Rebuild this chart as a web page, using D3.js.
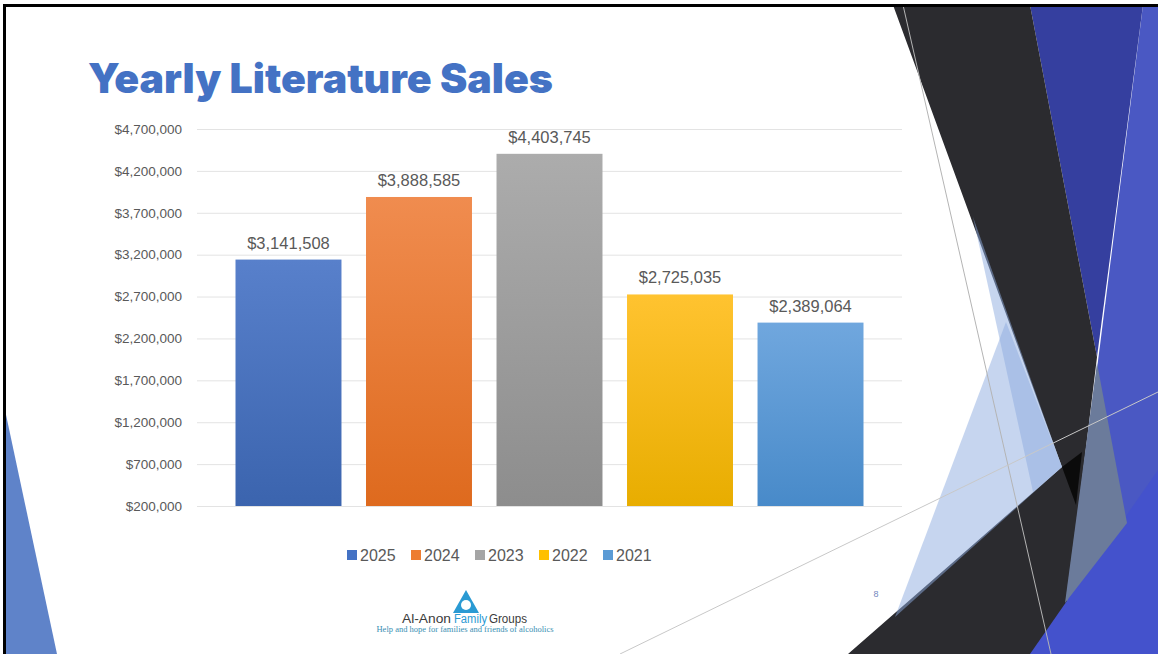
<!DOCTYPE html>
<html>
<head>
<meta charset="utf-8">
<script src="https://cdn.jsdelivr.net/npm/d3@7"></script>
<style>
body { margin: 0; background: #fff; }
svg { display: block; }
.tick text { font-family: "Liberation Sans", Arial, sans-serif; font-size: 13.5px; fill: #595959; }
.grid line { stroke: #e3e3e3; }
.grid path { display: none; }
</style>
</head>
<body>
<script>
// chart data
var years = ["2025", "2024", "2023", "2022", "2021"];
var sales = [3141508, 3888585, 4403745, 2725035, 2389064];
var yTicks = [200000, 700000, 1200000, 1700000, 2200000, 2700000, 3200000, 3700000, 4200000, 4700000];
var topColors = ["#5880cb", "#f08c4f", "#acacac", "#ffc330", "#70a7de"];
var bottomColors = ["#3b64ae", "#de6a1e", "#8d8d8d", "#e8ad00", "#488ac9"];
var legendColors = ["#4472c4", "#ed7d31", "#a5a5a5", "#ffc000", "#5b9bd5"];

var W = 1158, H = 654;
var svg = d3.select("body").append("svg").attr("width", W).attr("height", H);

// ---- slide background decorations ----
var deco = svg.append("g");
var poly = function(pts, fill, op) {
  deco.append("polygon").attr("points", pts.map(function(p) { return p.join(","); }).join(" "))
    .attr("fill", fill).attr("opacity", op == null ? 1 : op);
};
// left blue sliver
poly([[5, 410], [5, 654], [57, 654]], "#5f83c9");
// right side facets
poly([[1143, 5], [1158, 5], [1158, 654], [1061, 654]], "#4a58c3");
poly([[1030, 5], [1143, 5], [1097, 357]], "#353f9f");
poly([[893, 5], [1030, 5], [1097, 357], [1061, 654], [848, 654], [1062, 467]], "#2b2b2f");
poly([[1030, 654], [1158, 470], [1158, 654]], "#4452cc");
// translucent light blue facets
poly([[973, 217], [1062, 467], [1033, 492]], "#8eabe0", 0.5);
poly([[1006, 322], [1062, 467], [895, 617]], "#8eabe0", 0.5);
poly([[1097, 363], [1127, 523], [1065, 603]], "#6b7b9b");
poly([[1062, 467], [1082, 452], [1076, 505]], "#0b0b0b");
deco.append("line").attr("x1", 903).attr("y1", 5).attr("x2", 1051).attr("y2", 654)
  .attr("stroke", "#b4b4b4").attr("stroke-width", 1);
deco.append("line").attr("x1", 620).attr("y1", 654).attr("x2", 1158).attr("y2", 392)
  .attr("stroke", "#c8c8c8").attr("stroke-width", 1);
// frame
svg.append("path").attr("d", "M4.5,654 V5.5 H1158").attr("fill", "none")
  .attr("stroke", "#000").attr("stroke-width", 3);

// ---- title ----
svg.append("text").attr("x", 88).attr("y", 93)
  .attr("textLength", 465).attr("lengthAdjust", "spacingAndGlyphs")
  .style("font-family", "Inter, 'Open Sans', sans-serif")
  .style("font-weight", 900).style("font-size", "41px")
  .style("fill", "#4472c4").text("Yearly Literature Sales");

// ---- chart ----
var x = d3.scaleBand().domain(years).range([197, 902]).paddingInner(0.188).paddingOuter(0.295);
var y = d3.scaleLinear().domain([200000, 4700000]).range([506, 129]);

svg.append("g").attr("class", "grid")
  .attr("transform", "translate(197,0)")
  .call(d3.axisLeft(y).tickValues(yTicks).tickSize(-705).tickFormat(""));

svg.append("g").attr("transform", "translate(197,0)")
  .call(d3.axisLeft(y).tickValues(yTicks).tickSize(0).tickPadding(15)
    .tickFormat(function(d) { return "$" + d3.format(",")(d); }))
  .call(function(g) { g.select(".domain").remove(); });

var defs = svg.append("defs");
years.forEach(function(yr, i) {
  var gr = defs.append("linearGradient").attr("id", "g" + yr)
    .attr("x1", 0).attr("y1", 0).attr("x2", 0).attr("y2", 1);
  gr.append("stop").attr("offset", 0).attr("stop-color", topColors[i]);
  gr.append("stop").attr("offset", 1).attr("stop-color", bottomColors[i]);
});

svg.selectAll(".bar").data(sales).enter().append("rect")
  .attr("class", "bar")
  .attr("x", function(d, i) { return x(years[i]); })
  .attr("y", function(d) { return y(d); })
  .attr("width", x.bandwidth())
  .attr("height", function(d) { return y(200000) - y(d); })
  .attr("fill", function(d, i) { return "url(#g" + years[i] + ")"; });

svg.selectAll(".lbl").data(sales).enter().append("text")
  .attr("class", "lbl")
  .attr("x", function(d, i) { return x(years[i]) + x.bandwidth() / 2; })
  .attr("y", function(d) { return y(d) - 11; })
  .attr("text-anchor", "middle")
  .style("font-family", "'Liberation Sans', Arial, sans-serif")
  .style("font-size", "16.5px").style("fill", "#595959")
  .text(function(d) { return "$" + d3.format(",")(d); });

// ---- legend ----
var leg = svg.append("g").attr("transform", "translate(347,555)");
years.forEach(function(yr, i) {
  var it = leg.append("g").attr("transform", "translate(" + (i * 64) + ",0)");
  it.append("rect").attr("x", 0).attr("y", -5).attr("width", 10).attr("height", 10).attr("fill", legendColors[i]);
  it.append("text").attr("x", 13).attr("y", 6)
    .style("font-family", "'Liberation Sans', Arial, sans-serif")
    .style("font-size", "16px").style("fill", "#595959").text(yr);
});

// ---- page number ----
svg.append("text").attr("x", 876).attr("y", 597).attr("text-anchor", "middle")
  .style("font-family", "'Liberation Sans', Arial, sans-serif").style("font-size", "9px")
  .style("fill", "#7286bd").text("8");

// ---- logo ----
var logo = svg.append("g");
logo.append("polygon").attr("points", "466,590 453,613 479,613").attr("fill", "#2a9ad3");
logo.append("circle").attr("cx", 466).attr("cy", 605).attr("r", 5).attr("fill", "#fff");
var logoWords = [["Al-Anon", 402, 49, "#3b3b3b"], ["Family", 454, 33, "#2a9ad3"], ["Groups", 489, 38, "#3b3b3b"]];
logoWords.forEach(function(w) {
  logo.append("text").attr("x", w[1]).attr("y", 623)
    .attr("textLength", w[2]).attr("lengthAdjust", "spacingAndGlyphs")
    .style("font-family", "'Liberation Sans', Arial, sans-serif").style("font-size", "12px")
    .style("fill", w[3]).text(w[0]);
});
logo.append("text").attr("x", 465).attr("y", 632).attr("text-anchor", "middle")
  .style("font-family", "'Liberation Serif', 'DejaVu Serif', serif").style("font-size", "8.5px")
  .style("fill", "#3a8fb3").text("Help and hope for families and friends of alcoholics");
</script>
</body>
</html>
